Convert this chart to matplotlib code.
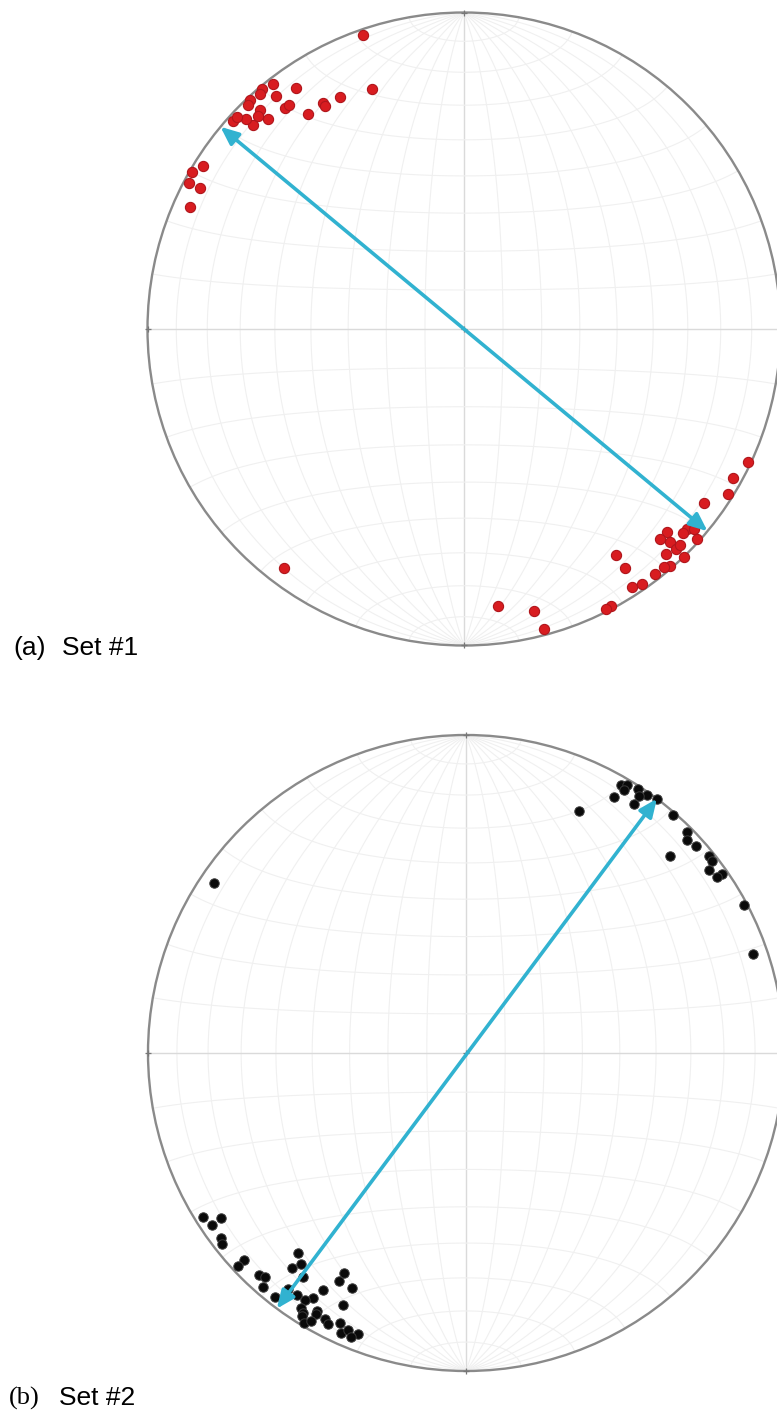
import numpy as np
import matplotlib
matplotlib.use("Agg")
import matplotlib.pyplot as plt
from matplotlib.patches import Circle, FancyArrowPatch

W, H, DPI = 777, 1414, 100

# ---- data: lineations as trend / plunge (degrees), lower-hemisphere equal-area net ----
set1_trend = [341, 339, 332, 328, 328, 324, 325, 321, 322, 322,
              321, 320, 319, 317, 316, 317, 317, 314, 314, 312,
              313, 316, 302, 300, 298, 298, 294, 217,
              115, 119, 122, 126, 132, 131, 132, 135, 137, 136,
              136, 138, 136, 139, 140, 142, 146, 146, 147, 145,
              152, 153, 173, 166, 165, 135, 133]
set1_plunge = [2, 20, 18, 17, 18, 17, 8, 11, 11, 2,
               6, 1, 2, 1, 2, 6, 10, 8, 5, 2,
               2, 7, 3, 1, 2, 6, 6, 6,
               1, 3, 2, 7, 6, 4, 1, 10, 10, 7,
               4, 5, 0, 1, 2, 2, 15, 10, 3, 2,
               1, 1, 13, 9, 2, 4, 6]

set2_trend = [30, 31, 31, 30, 33, 35, 34, 34, 37, 25,
              41, 45, 46, 48, 46, 51, 52, 53, 55, 55,
              62, 71, 304,
              238, 236, 236, 233, 232, 227, 227,
              223, 222, 221, 220, 218, 219, 216, 217, 218, 215,
              209, 209, 206, 211, 212, 213, 213, 210, 206, 212,
              212, 210, 208, 211, 210, 207, 205, 204, 203, 201,
              202]
set2_plunge = [3, 2, 4, 8, 1, 1, 3, 6, 0, 17,
               1, 2, 4, 3, 12, 2, 2, 5, 2, 4,
               1, 5, 5,
               3, 4, 8, 4, 3, 5, 2,
               5, 6, 3, 19, 17, 14, 14, 8, 3, 8,
               22, 19, 19, 14, 10, 8, 5, 7, 13, 4,
               3, 6, 6, 1, 3, 5, 7, 4, 6, 6,
               4]

# mean direction arrows (trend of both arrow tips, plunge 0)
arrow1_trends = [309.7, 129.7]
arrow2_trends = [216.5, 36.9]

label_letters = ["(a)", "(b)"]
label_names = ["Set #1", "Set #2"]


def project(trend, plunge):
    t = np.radians(np.asarray(trend, float))
    p = np.radians(np.asarray(plunge, float))
    r = np.sqrt(2.0) * np.sin((np.pi / 2 - p) / 2.0)
    return r * np.sin(t), r * np.cos(t)


def native(lon, lat):
    lon = np.radians(np.asarray(lon, float))
    lat = np.radians(np.asarray(lat, float))
    k = np.sqrt(2.0 / (1.0 + np.cos(lat) * np.cos(lon)))
    return k * np.cos(lat) * np.sin(lon) / np.sqrt(2), k * np.sin(lat) / np.sqrt(2)


fig = plt.figure(figsize=(W / DPI, H / DPI), dpi=DPI)
fig.patch.set_facecolor("white")

PAD = 1.06
ARROW_STYLE = "<|-|>,head_length=0.6,head_width=0.26"


def make_net(cx, cy, R):
    ax = fig.add_axes([(cx - PAD * R) / W, (H - cy - PAD * R) / H,
                       2 * PAD * R / W, 2 * PAD * R / H])
    ax.set_xlim(-PAD, PAD)
    ax.set_ylim(-PAD, PAD)
    ax.axis("off")
    full = np.linspace(-90, 90, 361)
    for lon in range(-80, 90, 10):
        x, y = native(np.full_like(full, lon), full)
        c, lw = ("#dadada", 1.0) if lon == 0 else ("#f0f0f0", 0.8)
        ax.plot(x, y, color=c, lw=lw, zorder=1)
    for lat in range(-80, 90, 10):
        x, y = native(full, np.full_like(full, lat))
        c, lw = ("#dadada", 1.0) if lat == 0 else ("#f0f0f0", 0.8)
        ax.plot(x, y, color=c, lw=lw, zorder=1)
    ax.add_patch(Circle((0, 0), 1.0, fill=False, ec="#8a8a8a", lw=1.7, zorder=3))
    ax.plot([0, 0, 0, -1, 1], [0, 1, -1, 0, 0], ls="none", marker="+",
            ms=5, mew=0.9, color="#777777", zorder=3)
    return ax


ax1 = make_net(464, 329, 316.5)
x1, y1 = project(set1_trend, set1_plunge)
ax1.scatter(x1, y1, s=54, c="#d81c20", edgecolors="#b0161c", linewidths=0.8, zorder=4)
ax, ay = project(arrow1_trends, [0, 0])
ax1.add_patch(FancyArrowPatch((ax[0], ay[0]), (ax[1], ay[1]), arrowstyle=ARROW_STYLE,
                              mutation_scale=18, color="#31b2d0", lw=2.6,
                              shrinkA=0, shrinkB=0, zorder=5))

ax2 = make_net(466, 1053, 318)
x2, y2 = project(set2_trend, set2_plunge)
ax2.scatter(x2, y2, s=46, c="#0a0a0a", edgecolors="#3a3a3a", linewidths=0.7, zorder=4)
bx, by = project(arrow2_trends, [0, 0])
ax2.add_patch(FancyArrowPatch((bx[0], by[0]), (bx[1], by[1]), arrowstyle=ARROW_STYLE,
                              mutation_scale=18, color="#31b2d0", lw=2.6,
                              shrinkA=0, shrinkB=0, zorder=5))

fig.text(13 / W, 1 - 655 / H, label_letters[0], fontsize=19,
         family="Liberation Sans", va="baseline", ha="left")
fig.text(62 / W, 1 - 655 / H, label_names[0], fontsize=19,
         family="Liberation Sans", va="baseline", ha="left")
fig.text(9 / W, 1 - 1405 / H, label_letters[1], fontsize=19,
         family="Liberation Serif", va="baseline", ha="left")
fig.text(59 / W, 1 - 1405 / H, label_names[1], fontsize=19,
         family="Liberation Sans", va="baseline", ha="left")

fig.savefig("out.png", dpi=DPI, facecolor="white")
